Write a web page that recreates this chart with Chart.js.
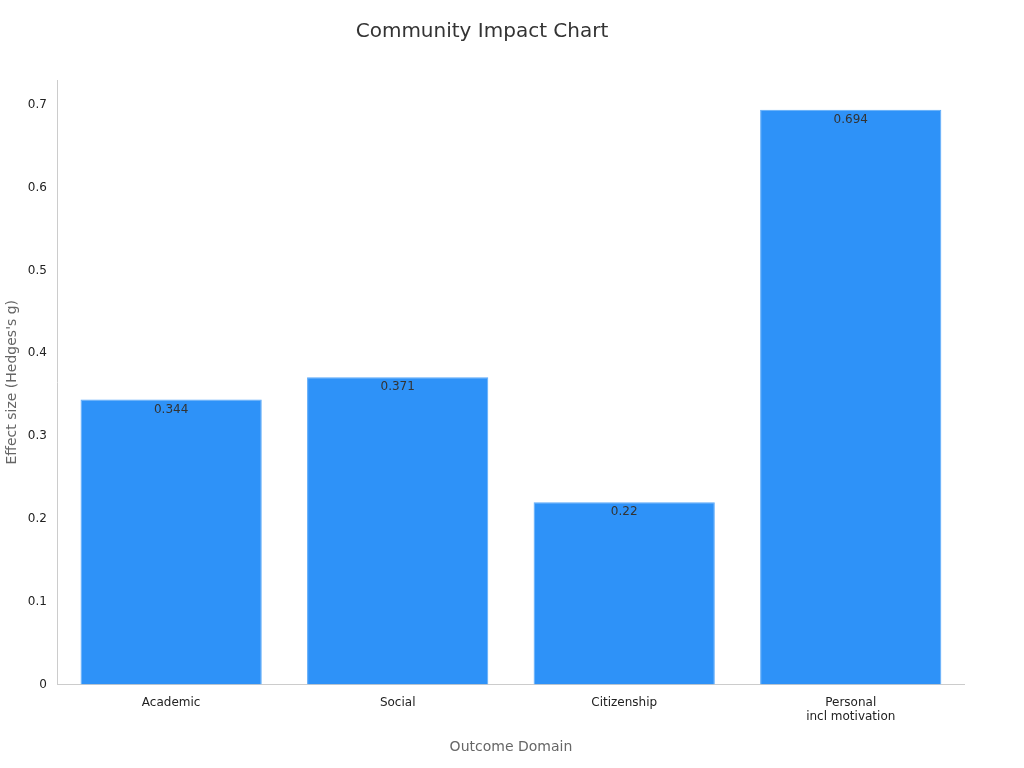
<!DOCTYPE html>
<html><head><meta charset="utf-8">
<script src="https://cdn.jsdelivr.net/npm/chart.js@4"></script>
<style>html,body{margin:0;padding:0;background:#fff}#w{width:1024px;height:768px}</style>
</head><body><div id="w"><canvas id="c" width="1024" height="768"></canvas></div>
<script>
const categories = [["Academic"], ["Social"], ["Citizenship"], ["Personal", "incl motivation"]];
const effectSizes = [0.344, 0.371, 0.22, 0.694];
const valueLabels = ["0.344", "0.371", "0.22", "0.694"];

Chart.defaults.font.family = "'DejaVu Sans', sans-serif";
const labelPlugin = {
  id: 'vals',
  afterDatasetsDraw(chart) {
    const ctx = chart.ctx;
    chart.getDatasetMeta(0).data.forEach((bar, i) => {
      ctx.save();
      ctx.fillStyle = '#333';
      ctx.font = "12px 'DejaVu Sans', sans-serif";
      ctx.textAlign = 'center';
      ctx.textBaseline = 'top';
      ctx.fillText(valueLabels[i], bar.x, bar.y + 4);
      ctx.restore();
    });
  }
};
new Chart(document.getElementById('c'), {
  type: 'bar',
  data: { labels: categories, datasets: [{ data: effectSizes, backgroundColor: '#2E92F8', borderColor: '#5aa9f9', borderWidth: 1, barPercentage: 0.8, categoryPercentage: 1 }] },
  options: {
    responsive: false, animation: false,
    layout: { padding: { left: 0, right: 60, top: 0, bottom: 8 } },
    plugins: {
      legend: { display: false }, tooltip: { enabled: false },
      title: { display: true, text: 'Community Impact Chart', color: '#333', font: { size: 20, weight: 'normal' }, padding: { top: 20, bottom: 36 } }
    },
    scales: {
      x: { grid: { display: false }, border: { color: '#ccc' }, ticks: { color: '#222', font: { size: 12 } },
           title: { display: true, text: 'Outcome Domain', color: '#666', font: { size: 14 }, padding: { top: 12 } } },
      y: { min: 0, max: 0.73, grid: { display: false, drawTicks: true }, border: { color: '#ccc' },
           afterBuildTicks(s) { s.ticks = [0,0.1,0.2,0.3,0.4,0.5,0.6,0.7].map(v => ({ value: v })); },
           ticks: { color: '#222', font: { size: 12 }, callback: v => v === 0 ? '0' : String(+v.toFixed(1)) },
           title: { display: true, text: "Effect size (Hedges's g)", color: '#666', font: { size: 14 } } }
    }
  },
  plugins: [labelPlugin]
});
</script></body></html>
